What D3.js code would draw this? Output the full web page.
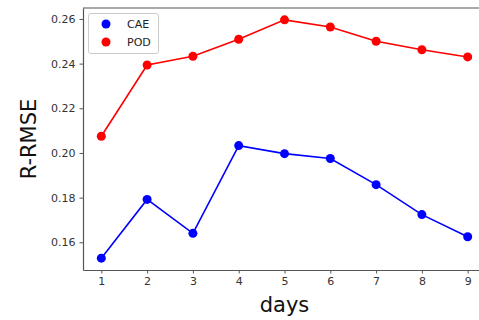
<!DOCTYPE html>
<html>
<head>
<meta charset="utf-8">
<script src="https://cdn.jsdelivr.net/npm/d3@7"></script>
<style>
  body { margin: 0; background: #fff; }
  svg { display: block; font-family: "DejaVu Sans", sans-serif; }
</style>
</head>
<body>
<div id="chart"></div>
<script>
// data
const DAYS = [1, 2, 3, 4, 5, 6, 7, 8, 9];
const CAE = [0.1529, 0.1792, 0.1640, 0.2033, 0.1997, 0.1975, 0.1858, 0.1724, 0.1625];
const POD = [0.2075, 0.2394, 0.2433, 0.2509, 0.2596, 0.2564, 0.2500, 0.2462, 0.2430];
const Y_TICKS = [0.16, 0.18, 0.20, 0.22, 0.24, 0.26];
const SERIES_NAMES = ["CAE", "POD"];
const SERIES_COLORS = ["#0000ff", "#ff0000"];

const FRAME_WIDTH = 479;
const FRAME_HEIGHT = 320;
const MARGINS = {left: 83, right: -7, top: 8, bottom: 50};

const FRAME = d3.select("#chart")
  .append("svg")
    .attr("width", FRAME_WIDTH)
    .attr("height", FRAME_HEIGHT);

const X_SCALE = d3.scaleLinear()
  .domain([0.6, 9.4])
  .range([MARGINS.left, FRAME_WIDTH - MARGINS.right]);

const Y_SCALE = d3.scaleLinear()
  .domain([0.1476, 0.2649])
  .range([FRAME_HEIGHT - MARGINS.bottom, MARGINS.top]);

// x axis
const xAxis = FRAME.append("g")
  .attr("transform", "translate(0," + (FRAME_HEIGHT - MARGINS.bottom) + ")")
  .call(d3.axisBottom(X_SCALE).tickValues(DAYS).tickSizeInner(3.5).tickSizeOuter(0)
    .tickPadding(4).tickFormat(d3.format("d")));

// y axis
const yAxis = FRAME.append("g")
  .attr("transform", "translate(" + MARGINS.left + ",0)")
  .call(d3.axisLeft(Y_SCALE).tickValues(Y_TICKS).tickSizeInner(3.5).tickSizeOuter(0)
    .tickPadding(4).tickFormat(d3.format(".2f")));

[xAxis, yAxis].forEach(ax => {
  ax.select(".domain").attr("stroke", "#555").attr("stroke-width", 1.2);
  ax.selectAll(".tick line").attr("stroke", "#555");
  ax.selectAll(".tick text")
    .attr("fill", "#333")
    .attr("font-size", "11px")
    .attr("font-family", "DejaVu Sans, sans-serif");
});

// top spine (right spine lies outside the window)
FRAME.append("line")
  .attr("x1", MARGINS.left).attr("x2", FRAME_WIDTH - MARGINS.right)
  .attr("y1", MARGINS.top).attr("y2", MARGINS.top)
  .attr("stroke", "#555").attr("stroke-width", 1.2);

// lines + markers
const line = d3.line()
  .x((d, i) => X_SCALE(DAYS[i]))
  .y(d => Y_SCALE(d));

[CAE, POD].forEach((vals, k) => {
  FRAME.append("path")
    .datum(vals)
    .attr("fill", "none")
    .attr("stroke", SERIES_COLORS[k])
    .attr("stroke-width", 1.6)
    .attr("d", line);

  FRAME.selectAll(".pt" + k)
    .data(vals)
    .enter()
    .append("circle")
      .attr("cx", (d, i) => X_SCALE(DAYS[i]))
      .attr("cy", d => Y_SCALE(d))
      .attr("r", 4.5)
      .attr("fill", SERIES_COLORS[k]);
});

// axis labels
FRAME.append("text")
  .attr("x", (MARGINS.left + FRAME_WIDTH - MARGINS.right) / 2)
  .attr("y", 312)
  .attr("text-anchor", "middle")
  .attr("font-size", "21px")
  .attr("fill", "#111")
  .text("days");

FRAME.append("text")
  .attr("transform", "translate(36,139) rotate(-90)")
  .attr("text-anchor", "middle")
  .attr("font-size", "21px")
  .attr("fill", "#111")
  .text("R-RMSE");

// legend
const legend = FRAME.append("g");
legend.append("rect")
  .attr("x", 88.5).attr("y", 13.5)
  .attr("width", 70).attr("height", 40)
  .attr("rx", 2.5)
  .attr("fill", "#fff")
  .attr("fill-opacity", 0.8)
  .attr("stroke", "#ccc");

SERIES_NAMES.forEach((name, k) => {
  legend.append("circle")
    .attr("cx", 106).attr("cy", 24 + k * 18)
    .attr("r", 4.5)
    .attr("fill", SERIES_COLORS[k]);
  legend.append("text")
    .attr("x", 127).attr("y", 24 + k * 18)
    .attr("dy", "0.35em")
    .attr("font-size", "11px")
    .attr("fill", "#222")
    .text(name);
});
</script>
</body>
</html>
